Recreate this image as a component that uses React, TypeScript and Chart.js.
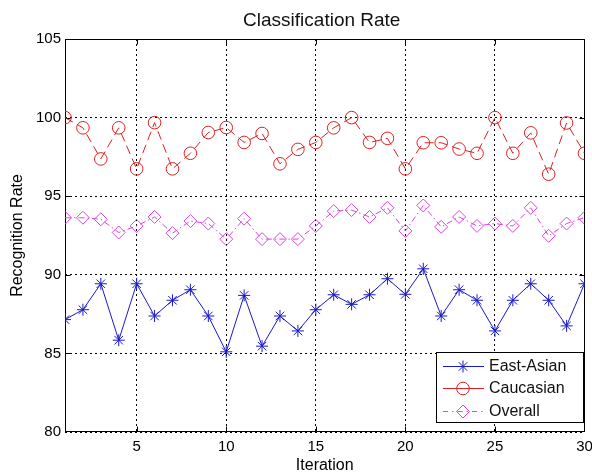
import React, { useEffect, useRef } from 'react';
import { Chart, registerables } from 'chart.js';
import { drawPoint } from 'chart.js/helpers';

Chart.register(...registerables);

const iterations = [1, 2, 3, 4, 5, 6, 7, 8, 9, 10, 11, 12, 13, 14, 15, 16, 17, 18, 19, 20, 21, 22, 23, 24, 25, 26, 27, 28, 29, 30];
const eastAsian = [87.15, 87.78, 89.43, 85.84, 89.43, 87.38, 88.38, 89.05, 87.38, 85.1, 88.69, 85.46, 87.38, 86.43, 87.78, 88.73, 88.12, 88.73, 89.75, 88.76, 90.38, 87.38, 89.05, 88.38, 86.43, 88.38, 89.43, 88.38, 86.75, 89.43];
const caucasian = [100.0, 99.35, 97.37, 99.35, 96.74, 99.68, 96.74, 97.73, 99.05, 99.37, 98.42, 98.99, 97.06, 97.98, 98.42, 99.35, 100.0, 98.42, 98.68, 96.74, 98.4, 98.4, 98.0, 97.73, 100.0, 97.73, 99.03, 96.4, 99.66, 97.73];
const overall = [93.63, 93.63, 93.53, 92.69, 93.11, 93.68, 92.65, 93.42, 93.26, 92.27, 93.57, 92.27, 92.27, 92.27, 93.11, 94.05, 94.12, 93.68, 94.26, 92.79, 94.41, 93.05, 93.68, 93.11, 93.26, 93.11, 94.26, 92.48, 93.26, 93.63];
const xTicks = [5, 10, 15, 20, 25, 30];
const seriesNames = ['East-Asian', 'Caucasian', 'Overall'];
const chartTitle = 'Classification Rate';

const FONT = "'Liberation Sans', Arial, Helvetica, sans-serif";
const BLUE = '#1a1acc';
const RED = '#dd2020';
const MAG = '#dd44dd';

const styles = [
  { color: BLUE, dash: [] as number[], legendDash: [] as number[], point: 'star', radius: 6 },
  { color: RED, dash: [9, 5], legendDash: [] as number[], point: 'circle', radius: 6.3 },
  { color: MAG, dash: [6, 3, 1.5, 3], legendDash: [5, 4, 1.5, 4], point: 'rectRot', radius: 6.5 },
];

const framePlugin = {
  id: 'frame',
  beforeDatasetsDraw(chart: any) {
    const { ctx, chartArea, scales } = chart;
    const l = Math.round(chartArea.left) + 0.5;
    const r = Math.round(chartArea.right) - 0.5;
    const t = Math.round(chartArea.top) + 0.5;
    const b = Math.round(chartArea.bottom) - 0.5;
    ctx.save();
    ctx.setLineDash([]);
    ctx.strokeStyle = '#000';
    ctx.lineWidth = 1;
    ctx.strokeRect(l, t, r - l, b - t);
    ctx.beginPath();
    for (const v of [5, 10, 15, 20, 25]) {
      const px = Math.round(scales.x.getPixelForValue(v)) + 0.5;
      ctx.moveTo(px, b); ctx.lineTo(px, b - 5);
      ctx.moveTo(px, t); ctx.lineTo(px, t + 5);
    }
    for (const v of [85, 90, 95, 100]) {
      const py = Math.round(scales.y.getPixelForValue(v)) + 0.5;
      ctx.moveTo(l, py); ctx.lineTo(l + 5, py);
      ctx.moveTo(r, py); ctx.lineTo(r - 5, py);
    }
    ctx.stroke();
    // title centered over the plot area
    ctx.fillStyle = '#111';
    ctx.font = `19px ${FONT}`;
    ctx.textAlign = 'center';
    ctx.textBaseline = 'alphabetic';
    ctx.fillText(chartTitle, (chartArea.left + chartArea.right) / 2 - 3, 26);
    ctx.restore();
  },
};

const legendPlugin = {
  id: 'customLegend',
  afterDraw(chart: any) {
    const { ctx } = chart;
    const bx = 436.5, by = 352.5, bw = 147, bh = 70;
    ctx.save();
    ctx.fillStyle = '#fff';
    ctx.fillRect(bx, by, bw, bh);
    ctx.strokeStyle = '#000';
    ctx.lineWidth = 1;
    ctx.setLineDash([]);
    ctx.strokeRect(bx, by, bw, bh);
    const rows = [366, 388, 411];
    seriesNames.forEach((name, i) => {
      const st = styles[i];
      const y = rows[i];
      ctx.strokeStyle = st.color;
      ctx.lineWidth = 1;
      ctx.setLineDash(st.legendDash);
      ctx.beginPath();
      ctx.moveTo(443, y + 0.5);
      ctx.lineTo(484, y + 0.5);
      ctx.stroke();
      ctx.setLineDash([]);
      ctx.fillStyle = 'rgba(0,0,0,0)';
      drawPoint(ctx, { pointStyle: st.point as any, radius: st.radius, rotation: 0, borderWidth: 1 }, 463, y + 0.5);
      ctx.fillStyle = '#111';
      ctx.font = `16px ${FONT}`;
      ctx.textAlign = 'left';
      ctx.textBaseline = 'middle';
      ctx.fillText(name, 489, y + 1);
    });
    ctx.restore();
  },
};

export default function App() {
  const ref = useRef<HTMLCanvasElement>(null);
  useEffect(() => {
    const canvas = ref.current;
    if (!canvas) return;
    const series = [eastAsian, caucasian, overall];
    const chart = new Chart(canvas, {
      type: 'line',
      data: {
        datasets: series.map((vals, i) => ({
          label: seriesNames[i],
          data: vals.map((v, k) => ({ x: iterations[k], y: v })),
          borderColor: styles[i].color,
          backgroundColor: 'rgba(0,0,0,0)',
          borderWidth: 1,
          borderDash: styles[i].dash,
          pointStyle: styles[i].point as any,
          pointRadius: styles[i].radius,
          pointBorderColor: styles[i].color,
          pointBackgroundColor: 'rgba(0,0,0,0)',
          pointBorderWidth: 1,
          tension: 0,
          fill: false,
        })),
      },
      options: {
        responsive: false,
        animation: false,
        layout: { padding: { left: 0, right: 7, top: 39, bottom: 0 } },
        plugins: {
          legend: { display: false },
          tooltip: { enabled: false },
          title: { display: false },
        },
        scales: {
          x: {
            type: 'linear',
            min: 1,
            max: 30,
            afterBuildTicks: (scale: any) => {
              scale.ticks = xTicks.map((v) => ({ value: v }));
            },
            afterFit: (scale: any) => {
              scale.height = 41;
              scale.paddingLeft = 0;
              scale.paddingRight = 0;
            },
            grid: { color: '#000', lineWidth: 1, drawTicks: false },
            border: { display: false, dash: [2, 3] },
            ticks: { color: '#000', padding: 6, font: { size: 15, family: FONT }, maxRotation: 0, autoSkip: false },
            title: { display: true, text: 'Iteration', color: '#000', font: { size: 16, family: FONT }, padding: { top: 0, bottom: -2 } },
          },
          y: {
            type: 'linear',
            min: 80,
            max: 105,
            ticks: { stepSize: 5, color: '#000', padding: 4, font: { size: 15, family: FONT } },
            afterFit: (scale: any) => {
              scale.width = 65;
              scale.paddingTop = 0;
              scale.paddingBottom = 0;
            },
            grid: { color: '#000', lineWidth: 1, drawTicks: false },
            border: { display: false, dash: [2, 3] },
            title: { display: true, text: 'Recognition Rate', color: '#000', font: { size: 16, family: FONT }, padding: { top: 8, bottom: 0 } },
          },
        },
      },
      plugins: [framePlugin, legendPlugin],
    });
    return () => chart.destroy();
  }, []);
  return (
    <div style={{ position: 'absolute', left: 0, top: 0, width: 592, height: 473, background: '#fff' }}>
      <canvas ref={ref} width={592} height={473} style={{ display: 'block' }} />
    </div>
  );
}
